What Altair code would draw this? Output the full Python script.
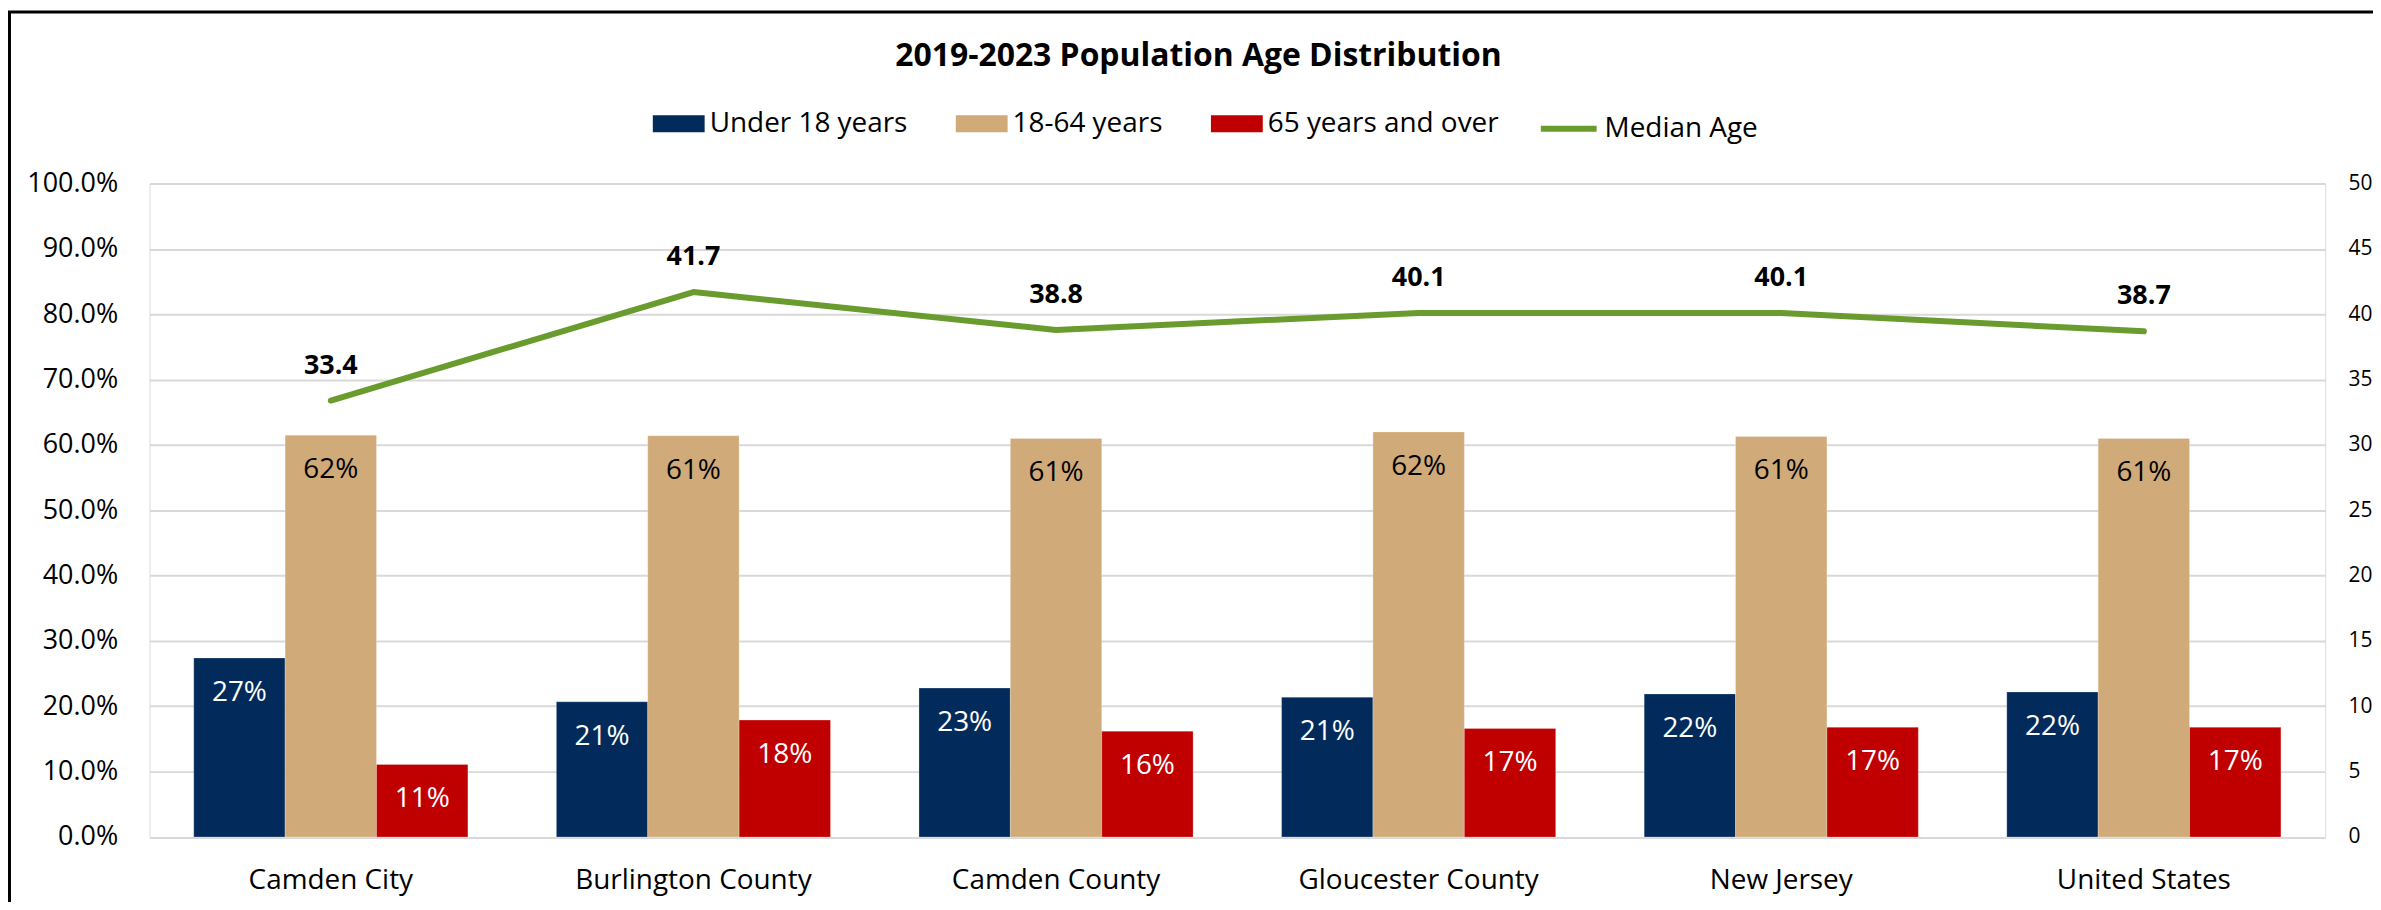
import altair as alt
import pandas as pd

categories = ["Camden City", "Burlington County", "Camden County",
              "Gloucester County", "New Jersey", "United States"]
series = ["Under 18 years", "18-64 years", "65 years and over"]
under18 = [0.274, 0.207, 0.228, 0.214, 0.219, 0.222]
age18_64 = [0.615, 0.614, 0.610, 0.620, 0.613, 0.610]
over65 = [0.111, 0.179, 0.162, 0.166, 0.168, 0.168]
median_age = [33.4, 41.7, 38.8, 40.1, 40.1, 38.7]
line_name = "Median Age"
title_text = "2019-2023 Population Age Distribution"

bar_colors = ["#022B5B", "#D0AA78", "#C00000"]
line_color = "#6A9B2E"
FONT = "Open Sans"

rows = []
for name, vals in zip(series, [under18, age18_64, over65]):
    for c, v in zip(categories, vals):
        rows.append({"category": c, "series": name, "value": v})
bars_df = pd.DataFrame(rows)
line_df = pd.DataFrame({"category": categories, "age": median_age,
                        "metric": [line_name] * len(categories)})
frame_df = pd.DataFrame({"k": [0]})
title_df = pd.DataFrame({"t": [title_text]})

W, H = 2183, 655.6

x_enc = alt.X("category:N", sort=categories, title=None,
              scale=alt.Scale(paddingInner=0.244, paddingOuter=0.122),
              axis=alt.Axis(labelFont=FONT, labelFontSize=28, labelColor="black",
                            ticks=False, tickSize=0, domain=False, labelPadding=30,
                            labelAngle=0, grid=False, labelLimit=400))

rect_path = "M-1,-0.327H1V0.327H-1Z"

bars = alt.Chart(bars_df).mark_bar(stroke="#ffffff", strokeOpacity=0.25, strokeWidth=1).encode(
    x=x_enc,
    xOffset=alt.XOffset("series:N", sort=series, scale=alt.Scale(paddingInner=0, paddingOuter=0)),
    y=alt.Y("value:Q", title=None,
            scale=alt.Scale(domain=[0, 1], nice=False, zero=True),
            axis=alt.Axis(format=".1%", values=[i / 10 for i in range(11)],
                          labelFont=FONT, labelFontSize=27, labelColor="black",
                          ticks=False, tickSize=0, domain=False, labelPadding=32,
                          gridColor="#D9D9D9", gridWidth=2)),
    color=alt.Color("series:N", sort=series, title=None,
                    scale=alt.Scale(domain=series, range=bar_colors),
                    legend=alt.Legend(orient="none", legendX=505, legendY=-86,
                                      direction="horizontal", columns=3,
                                      symbolType=rect_path, symbolSize=2704,
                                      symbolStrokeWidth=0, labelFont=FONT,
                                      labelFontSize=28, labelColor="black",
                                      labelOffset=5, columnPadding=48,
                                      labelLimit=400, padding=0)),
)

bar_text = alt.Chart(bars_df).mark_text(font=FONT, fontSize=28, baseline="alphabetic",
                                        align="center", dy=43).encode(
    x=alt.X("category:N", sort=categories),
    xOffset=alt.XOffset("series:N", sort=series),
    y=alt.Y("value:Q"),
    text=alt.Text("value:Q", format=".0%"),
    color=alt.condition(alt.datum.series == "18-64 years",
                        alt.value("black"), alt.value("white")),
)

y2 = alt.Y("age:Q", title=None,
           scale=alt.Scale(domain=[0, 50], nice=False, zero=True),
           axis=alt.Axis(orient="right", values=list(range(0, 51, 5)),
                         labelFont=FONT, labelFontSize=21, labelColor="black",
                         ticks=False, tickSize=0, domain=False, grid=False,
                         labelPadding=23))

line = alt.Chart(line_df).mark_line(strokeWidth=6, strokeCap="round",
                                    strokeJoin="round").encode(
    x=alt.X("category:N", sort=categories),
    y=y2,
    stroke=alt.Stroke("metric:N", title=None,
                      scale=alt.Scale(domain=[line_name], range=[line_color]),
                      legend=alt.Legend(orient="none", legendX=1393, legendY=-86,
                                        symbolType="stroke", symbolSize=3136,
                                        symbolStrokeWidth=6, labelFont=FONT,
                                        labelFontSize=28, labelColor="black",
                                        labelOffset=5, labelLimit=400, padding=0)),
)

line_text = alt.Chart(line_df).mark_text(font=FONT, fontSize=27, fontWeight="bold",
                                         baseline="alphabetic", align="center",
                                         dy=-27, color="black").encode(
    x=alt.X("category:N", sort=categories),
    y=alt.Y("age:Q"),
    text=alt.Text("age:Q", format=".1f"),
)

# chart title drawn as text in the chart frame
title_mark = alt.Chart(title_df).mark_text(font=FONT, fontSize=32, fontWeight="bold",
                                           baseline="alphabetic", align="center",
                                           color="black").encode(
    text="t:N",
    x=alt.value(W / 2 - 39), y=alt.value(-117.7),
)

frame = alt.Chart(frame_df).mark_rect(fillOpacity=0, stroke="black", strokeWidth=3).encode(
    x=alt.value(-140.5), x2=alt.value(W + 200),
    y=alt.value(-172.2), y2=alt.value(H + 200),
)

chart = alt.layer(
    alt.layer(bars, bar_text),
    alt.layer(line, line_text),
    title_mark,
    frame,
).resolve_scale(y="independent", color="independent").properties(
    width=W, height=H,
    autosize=alt.AutoSizeParams(type="none"),
    padding={"left": 142, "top": 174.7, "right": 48, "bottom": 63.7},
).configure_view(stroke=None).configure(background="white")

chart.save("out.html", embed_options={"renderer": "svg", "actions": False})
